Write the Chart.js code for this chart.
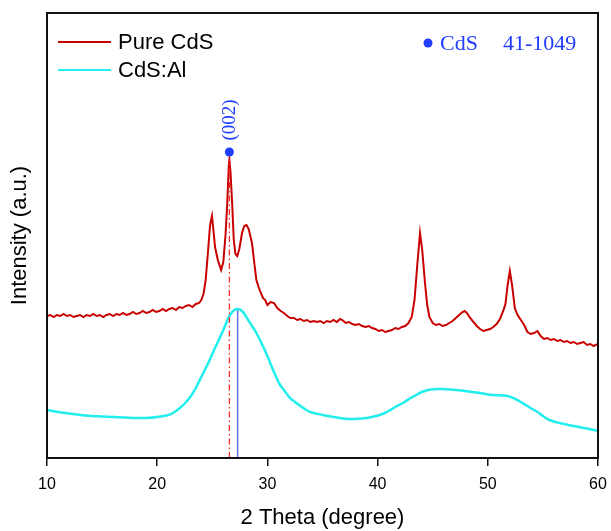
<!DOCTYPE html>
<html>
<head>
<meta charset="utf-8">
<script src="https://cdn.jsdelivr.net/npm/chart.js@4.4.1/dist/chart.umd.min.js"></script>
<style>
  html, body { margin: 0; padding: 0; background: #fff; }
  #wrap { width: 611px; height: 531px; }
</style>
</head>
<body>
<div id="wrap"><canvas id="xrd" width="611" height="531"></canvas></div>
<script>
// 2 theta positions (degree) and intensities (a.u.) for each pattern
const pureTheta = [
  10.0, 10.3, 10.6, 10.9, 11.2, 11.5, 11.8, 12.1, 12.4, 12.7, 13.0, 13.3, 13.6, 13.9, 14.2, 14.5,
  14.8, 15.1, 15.4, 15.7, 16.0, 16.3, 16.6, 16.9, 17.2, 17.5, 17.8, 18.1, 18.4, 18.7, 19.0, 19.3,
  19.6, 19.9, 20.2, 20.5, 20.8, 21.1, 21.4, 21.7, 22.0, 22.3, 22.6, 22.9, 23.2, 23.5, 23.8, 24.0,
  24.2, 24.4, 24.6, 24.8, 24.97, 25.1, 25.25, 25.5, 25.8, 26.0, 26.2, 26.35, 26.5, 26.55, 26.65, 26.8,
  26.95, 27.1, 27.27, 27.45, 27.7, 27.9, 28.1, 28.3, 28.6, 28.8, 29.0, 29.2, 29.4, 29.6, 29.8, 30.0,
  30.3, 30.6, 30.9, 31.2, 31.5, 31.8, 32.1, 32.4, 32.7, 33.0, 33.3, 33.6, 33.9, 34.2, 34.5, 34.8,
  35.1, 35.4, 35.7, 36.0, 36.3, 36.6, 36.8, 37.1, 37.4, 37.7, 38.0, 38.3, 38.6, 38.9, 39.2, 39.5,
  39.8, 40.1, 40.4, 40.7, 41.0, 41.3, 41.6, 41.9, 42.2, 42.5, 42.8, 43.1, 43.35, 43.6, 43.85, 44.05,
  44.3, 44.5, 44.7, 45.0, 45.3, 45.6, 45.9, 46.2, 46.5, 46.8, 47.1, 47.4, 47.7, 47.9, 48.1, 48.4,
  48.7, 49.0, 49.3, 49.6, 49.9, 50.2, 50.5, 50.8, 51.1, 51.4, 51.6, 51.8, 52.0, 52.2, 52.45, 52.7,
  53.0, 53.3, 53.6, 53.9, 54.2, 54.5, 54.8, 55.1, 55.4, 55.7, 56.0, 56.3, 56.6, 56.9, 57.2, 57.5,
  57.8, 58.1, 58.4, 58.7, 59.0, 59.3, 59.6, 60.0
];
const pureCounts = [
  142, 143, 141, 143, 142, 144, 142, 143, 141, 142, 143, 141, 143, 142, 144, 142,
  143, 141, 143, 144, 142, 144, 143, 145, 143, 144, 146, 144, 145, 147, 145, 146,
  148, 146, 147, 149, 147, 149, 150, 148, 151, 150, 152, 153, 151, 154, 155, 158,
  164, 178, 205, 233, 242, 228, 211, 198, 188, 196, 223, 253, 293, 298, 286, 255,
  218, 204, 202, 209, 225, 232, 233, 229, 215, 196, 178, 171, 165, 160, 158, 153,
  156, 155, 150, 147, 145, 142, 140, 140, 138, 139, 137, 138, 136, 137, 136, 137,
  135, 137, 136, 138, 136, 139, 138, 135, 136, 134, 133, 134, 132, 131, 132, 130,
  129, 127, 128, 126, 127, 128, 130, 129, 131, 132, 135, 141, 158, 193, 225, 208,
  175, 153, 141, 135, 133, 134, 132, 133, 135, 137, 140, 143, 146, 147, 145, 140,
  136, 132, 129, 127, 128, 129, 131, 134, 139, 147, 154, 173, 187, 173, 150, 143,
  138, 133, 126, 124, 125, 127, 122, 119, 120, 118, 119, 117, 118, 116, 117, 115,
  116, 114, 115, 116, 113, 114, 112, 114
];

const alTheta = [
  10, 11, 12, 13, 14, 15, 16, 17, 18, 19, 20, 21, 21.5, 22, 22.5, 23,
  23.5, 24, 24.5, 25, 25.5, 26, 26.3, 26.6, 27.0, 27.3, 27.7, 28.2, 28.6, 29.0, 29.5, 30.0,
  30.4, 30.8, 31.1, 31.5, 32.05, 32.5, 33, 33.4, 33.9, 35, 36, 37.5, 39, 40.2, 41, 41.6,
  42.3, 43, 43.5, 44, 44.8, 45.7, 46.5, 47.8, 49.4, 50.5, 51.7, 52.5, 53.2, 53.8, 54.5, 55,
  55.6, 56.5, 57.8, 59, 60
];
const alCounts = [
  48, 46, 44.5, 43, 42, 41.5, 41, 40.5, 40, 40, 41, 43, 45.5, 49.5, 54.5, 61,
  70, 81, 92, 104, 116, 128, 136, 143, 148, 149, 147, 139, 132, 125, 114, 102,
  91, 81, 74, 68, 60, 56, 52, 49, 46, 43, 41, 39, 40, 43, 47, 51,
  55, 60, 63, 66, 68.5, 69, 68.5, 67.3, 64.7, 63, 62.3, 59, 54.7, 50.5, 46, 42,
  38, 35, 32, 29.5, 27
];

// (002) reflection: reference position and the two peak maxima
const refPeak = 26.55;
const refMarkY = 306;
const pureMax = 298;
const alPeak = 27.3;
const alMax = 149;

const xTicks = [10, 20, 30, 40, 50, 60];
const seriesNames = ['Pure CdS', 'CdS:Al'];
const pdfCard = ['CdS', '41-1049'];

const RED = '#c80000';
const CYAN = '#22eeee';
const BLUE = '#1f3cff';

const toPoints = (xs, ys) => xs.map((x, i) => ({ x: x, y: ys[i] }));

// box frame, in-plot legend and phase labels
const decorations = {
  id: 'decorations',
  afterDraw(chart) {
    const { ctx, chartArea: a, scales } = chart;
    ctx.save();
    ctx.strokeStyle = '#111';
    ctx.lineWidth = 2;
    ctx.strokeRect(a.left, a.top, a.right - a.left, a.bottom - a.top);

    // series legend
    const colors = [RED, CYAN];
    ctx.font = '22px "Liberation Sans", Arial, sans-serif';
    ctx.textBaseline = 'middle';
    ctx.fillStyle = '#000';
    seriesNames.forEach((name, i) => {
      const y = a.top + 29 + i * 28;
      ctx.strokeStyle = colors[i];
      ctx.lineWidth = 2;
      ctx.beginPath();
      ctx.moveTo(a.left + 11, y);
      ctx.lineTo(a.left + 64, y);
      ctx.stroke();
      ctx.fillText(name, a.left + 71, y + 1);
    });

    // JCPDS card label
    ctx.fillStyle = BLUE;
    ctx.font = '22px "Liberation Serif", "Times New Roman", serif';
    const cy = a.top + 30;
    ctx.beginPath();
    ctx.arc(a.right - 170, cy, 4.5, 0, Math.PI * 2);
    ctx.fill();
    ctx.fillText(pdfCard[0], a.right - 158, cy + 1);
    ctx.fillText(pdfCard[1], a.right - 95, cy + 1);

    // (002) label above the marker
    const px = scales.x.getPixelForValue(refPeak);
    const py = scales.y.getPixelForValue(refMarkY);
    ctx.translate(px, py - 32);
    ctx.rotate(-Math.PI / 2);
    ctx.font = '19px "Liberation Serif", "Times New Roman", serif';
    ctx.textAlign = 'center';
    ctx.fillText('(002)', 0, 1);
    ctx.restore();
  }
};

new Chart(document.getElementById('xrd'), {
  type: 'scatter',
  data: {
    datasets: [
      {
        label: seriesNames[0],
        data: toPoints(pureTheta, pureCounts),
        showLine: true,
        borderColor: RED,
        borderWidth: 2,
        pointRadius: 0,
        tension: 0,
        order: 2
      },
      {
        label: seriesNames[1],
        data: toPoints(alTheta, alCounts),
        showLine: true,
        borderColor: CYAN,
        borderWidth: 2.5,
        pointRadius: 0,
        tension: 0.4,
        order: 3
      },
      {
        label: 'ref line',
        data: [{ x: refPeak, y: 0 }, { x: refPeak, y: pureMax }],
        showLine: true,
        borderColor: '#ff2a2a',
        borderWidth: 1.3,
        borderDash: [6, 3, 1.5, 3],
        pointRadius: 0,
        order: 1
      },
      {
        label: 'doped line',
        data: [{ x: alPeak, y: 0 }, { x: alPeak, y: alMax }],
        showLine: true,
        borderColor: '#5f70ff',
        borderWidth: 1.5,
        pointRadius: 0,
        order: 4
      },
      {
        label: 'ref mark',
        data: [{ x: refPeak, y: refMarkY }],
        pointRadius: 4.5,
        pointBackgroundColor: BLUE,
        pointBorderWidth: 0,
        order: 0
      }
    ]
  },
  options: {
    responsive: false,
    animation: false,
    layout: { padding: { top: 13, right: 13, left: 0, bottom: 0 } },
    plugins: {
      legend: { display: false },
      tooltip: { enabled: false }
    },
    scales: {
      x: {
        type: 'linear',
        min: 10,
        max: 60,
        afterBuildTicks: (s) => { s.ticks = xTicks.map(v => ({ value: v })); },
        afterFit: (s) => { s.height = 73; s.paddingLeft = 0; s.paddingRight = 0; },
        ticks: {
          color: '#000',
          padding: 9,
          maxRotation: 0,
          font: { family: '"Liberation Sans", Arial, sans-serif', size: 16 }
        },
        grid: { drawOnChartArea: false, drawTicks: true, tickLength: 8, color: '#111', lineWidth: 1.5 },
        border: { display: true, color: '#111', width: 2 },
        title: {
          display: true,
          text: '2 Theta (degree)',
          color: '#000',
          padding: { top: 0, bottom: 0 },
          font: { family: '"Liberation Sans", Arial, sans-serif', size: 22 }
        }
      },
      y: {
        min: 0,
        max: 445,
        afterFit: (s) => { s.width = 47; },
        ticks: { display: false },
        grid: { drawOnChartArea: false, drawTicks: false },
        border: { display: true, color: '#111', width: 2 },
        title: {
          display: true,
          text: 'Intensity (a.u.)',
          color: '#000',
          padding: { top: 7, bottom: 0 },
          font: { family: '"Liberation Sans", Arial, sans-serif', size: 22 }
        }
      }
    }
  },
  plugins: [decorations]
});
</script>
</body>
</html>
